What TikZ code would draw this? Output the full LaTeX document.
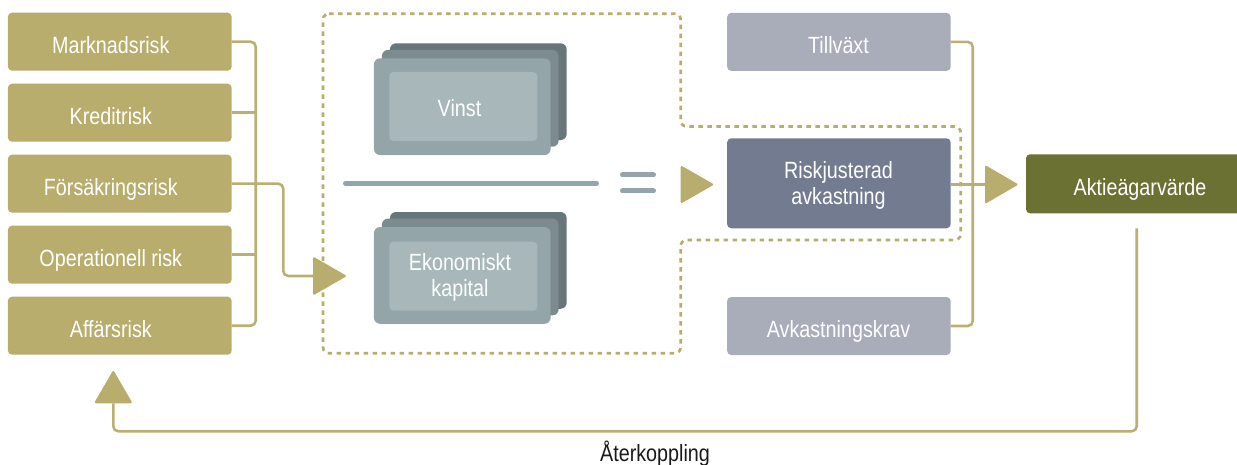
\documentclass[tikz,border=0pt]{standalone}
\usepackage{fontspec}
\setmainfont{Liberation Sans}[FakeStretch=0.84]
\usetikzlibrary{calc}
\definecolor{gold}{HTML}{B8AD6D}
\definecolor{goldline}{HTML}{BBB074}
\definecolor{lilac}{HTML}{A9ACB9}
\definecolor{slate}{HTML}{737B91}
\definecolor{olive}{HTML}{6B7133}
\definecolor{stackA}{HTML}{66767A}
\definecolor{stackB}{HTML}{7B8B8F}
\definecolor{stackC}{HTML}{93A5A9}
\definecolor{stackD}{HTML}{A7B7BA}
\definecolor{txtdark}{HTML}{1A1A1A}
\begin{document}
\begin{tikzpicture}[x=1pt,y=-1pt,
  box/.style={inner sep=0pt, outer sep=0pt, rounded corners=4pt, draw=none},
  riskbox/.style={box, fill=gold, minimum width=223.7pt, minimum height=58pt},
  rightbox/.style={box, minimum width=223.4pt, minimum height=58pt},
  layer/.style={box, rounded corners=6pt, minimum width=176.7pt, minimum height=96.7pt},
  inner/.style={box, fill=stackD, minimum width=148pt, minimum height=69pt},
  lbl/.style={text=white, anchor=base, inner sep=0pt, align=center, font=\fontsize{23.5}{25.5}\selectfont},
  conn/.style={draw=goldline, line width=2.6pt, rounded corners=5pt},
  tri/.style={fill=gold, rounded corners=2pt},
  dashbox/.style={draw=gold, line width=2.7pt, dash pattern=on 4.5pt off 4.5pt, rounded corners=6pt},
  bar/.style={draw=stackC, line width=5pt, line cap=round}
]
\clip (0,0) rectangle (1237,465);
\fill[white] (0,0) rectangle (1237,465);

% dashed region
\draw[dashbox] (323,13.7) -- (680.7,13.7) -- (680.7,126.5) -- (960.7,126.5) -- (960.7,240) -- (680.7,240) -- (680.7,353.3) -- (323,353.3) -- cycle;

% left risk boxes
\node[riskbox] (mark)  at (119.8,41.7)  {};
\node[riskbox] (kred)  at (119.8,112.7) {};
\node[riskbox] (fors)  at (119.8,183.7) {};
\node[riskbox] (oper)  at (119.8,254.7) {};
\node[riskbox] (affar) at (119.8,325.7) {};
\node[lbl] (tmark)  at ($(mark.center)+(-9,11.6)$)  {Marknadsrisk};
\node[lbl] (tkred)  at ($(kred.center)+(-9,11.6)$)  {Kreditrisk};
\node[lbl] (tfors)  at ($(fors.center)+(-9,11.6)$)  {Försäkringsrisk};
\node[lbl] (toper)  at ($(oper.center)+(-9,11.6)$)  {Operationell risk};
\node[lbl] (taffar) at ($(affar.center)+(-9,11.6)$) {Affärsrisk};

% stacks
\node[layer, fill=stackA] (vinstA) at (478.3,91.7) {};
\node[layer, fill=stackB] (vinstB) at (470.3,98.3) {};
\node[layer, fill=stackC] (vinst)  at (462.3,106.7) {};
\node[inner] (vinstI) at (463.3,106.5) {};
\node[lbl] (tvinst) at (459.5,116.7) {Vinst};

\node[layer, fill=stackA] (ekA) at (478.3,260.4) {};
\node[layer, fill=stackB] (ekB) at (470.3,267) {};
\node[layer, fill=stackC] (ek)  at (462.3,275.4) {};
\node[inner] (ekI) at (463.3,276.2) {};
\node[lbl] (tek) at (460,296) {Ekonomiskt\\kapital};

% fraction and equals
\draw[bar] (345.5,183.3) -- (596.5,183.3);
\draw[bar] (622.5,175) -- (653.5,175);
\draw[bar] (622.5,191) -- (653.5,191);

% right boxes
\node[rightbox, fill=lilac] (till) at (838.9,41.9) {};
\node[rightbox, fill=slate, minimum height=90pt] (riskj) at (838.9,183.3) {};
\node[rightbox, fill=lilac] (avk) at (838.9,326) {};
\node[lbl] (ttill) at (838.5,53.3) {Tillväxt};
\node[lbl] (triskj) at (838.5,204.5) {Riskjusterad\\avkastning};
\node[lbl] (tavk) at (838.5,337.3) {Avkastningskrav};

\node[box, fill=olive, minimum width=228pt, minimum height=59pt] (aktie) at (1140,183.8) {};
\node[lbl] (taktie) at (1140,195.7) {Aktieägarvärde};

% arrow heads
\coordinate (a1) at (313,276);
\coordinate (a2) at (680.7,184.5);
\coordinate (a3) at (985,184.5);
\coordinate (a4) at (113.3,403.3);
\fill[tri] ($(a1)+(0,-19.5)$) -- ($(a1)+(34,0)$) -- ($(a1)+(0,19.5)$) -- cycle;
\fill[tri] ($(a2)+(0,-19.2)$) -- ($(a2)+(33.5,0)$) -- ($(a2)+(0,19.2)$) -- cycle;
\fill[tri] ($(a3)+(0,-19.5)$) -- ($(a3)+(33.5,0)$) -- ($(a3)+(0,19.5)$) -- cycle;
\fill[tri] ($(a4)+(-19.3,0)$) -- ($(a4)+(0,-33.3)$) -- ($(a4)+(19.3,0)$) -- cycle;

% left connectors
\coordinate (busL) at (255.7,0);
\draw[conn] (mark.east) -| (busL |- affar.east) -- (affar.east);
\draw[conn] (kred.east) -- (busL |- kred.east);
\draw[conn] (oper.east) -- (busL |- oper.east);
\draw[conn] (fors.east) -- (283.3,183.7) -- (283.3,276) -- (a1);

% right connectors
\coordinate (busR) at (972.7,0);
\draw[conn] (till.east) -| (busR |- avk.east) -- (avk.east);
\draw[conn] (riskj.east |- a3) -- (a3);

% feedback
\coordinate (fb) at (1136.7,228.3);
\draw[conn] (fb) -- (1136.7,431.3) -- (113.3,431.3) -- (a4);
\node[lbl, text=txtdark] (tfb) at (655,461) {Återkoppling};
\end{tikzpicture}
\end{document}
